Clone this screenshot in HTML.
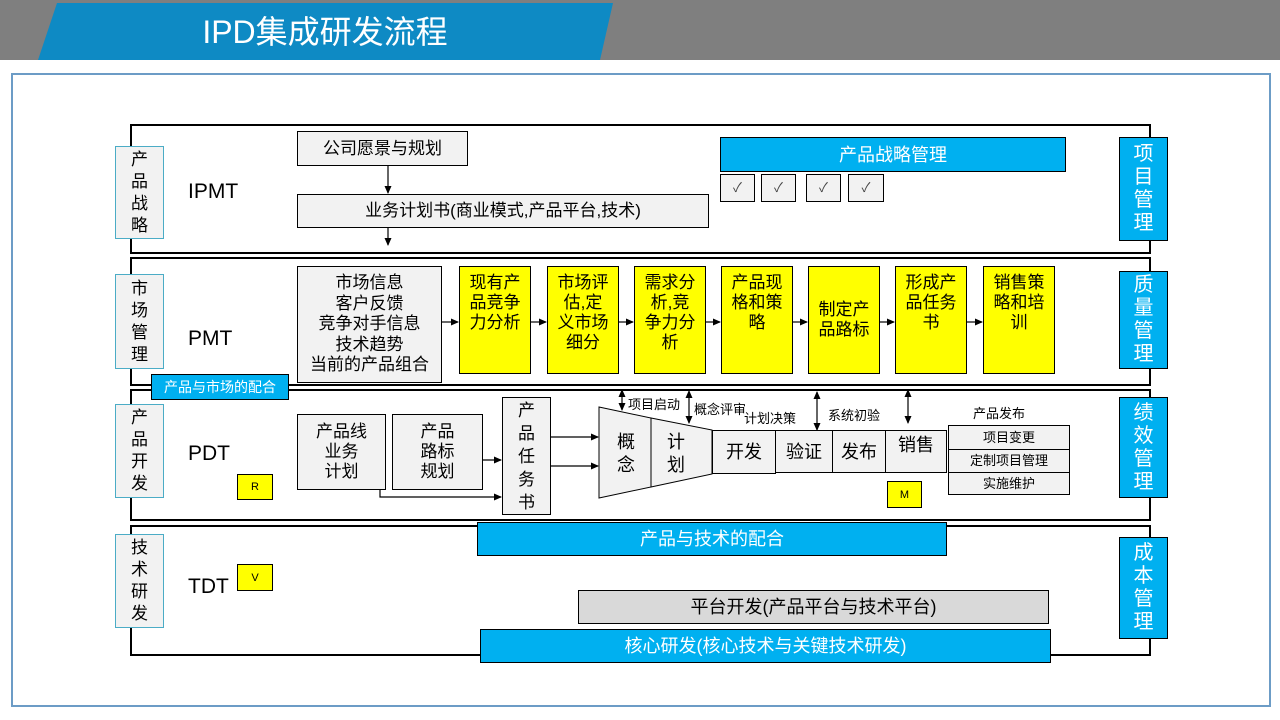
<!DOCTYPE html>
<html><head><meta charset="utf-8"><style>
*{margin:0;padding:0;box-sizing:border-box}
body{width:1280px;height:720px;background:#fff;position:relative;overflow:hidden;font-family:"Liberation Sans","Noto Sans CJK SC",sans-serif;color:#000}
.a{position:absolute}
.box{position:absolute;border:1px solid #000;background:#f2f2f2;text-align:center;font-size:17px;line-height:20px;display:flex;align-items:center;justify-content:center}
.y{background:#ffff00;align-items:flex-start;padding-top:6px}
.bl{background:#00b0f0;color:#fff}
.lane{position:absolute;left:130px;width:1021px;border:2px solid #000}
.ll{position:absolute;left:115px;width:49px;background:#f2f2f2;border:1px solid #4bacc6;font-size:17px;line-height:22px;text-align:center;display:flex;align-items:center;justify-content:center}
.rl{position:absolute;left:1119px;width:49px;background:#00b0f0;border:1px solid #000;color:#fff;font-size:20px;line-height:23px;text-align:center;display:flex;align-items:center;justify-content:center}
.t{position:absolute;font-size:21px}
.s{position:absolute;font-size:13px;white-space:nowrap}
</style></head><body>
<div class="a" style="left:0;top:0;width:1280px;height:60px;background:#7f7f7f"></div>
<svg class="a" style="left:0;top:0" width="1280" height="60"><polygon points="57,3 613,3 600,60 38,60" fill="#0e8ac4"/></svg>
<div class="a" style="left:0;top:12px;width:650px;text-align:center;color:#fff;font-size:32px;line-height:40px">IPD集成研发流程</div>
<div class="a" style="left:11px;top:73px;width:1260px;height:634px;border:2px solid #6c9cc6"></div>

<div class="lane" style="top:124px;height:130px"></div>
<div class="lane" style="top:257px;height:129px"></div>
<div class="lane" style="top:389px;height:132px"></div>
<div class="lane" style="top:525px;height:131px"></div>

<div class="ll" style="top:146px;height:93px">产<br>品<br>战<br>略</div>
<div class="ll" style="top:274px;height:95px">市<br>场<br>管<br>理</div>
<div class="ll" style="top:404px;height:94px">产<br>品<br>开<br>发</div>
<div class="ll" style="top:534px;height:94px">技<br>术<br>研<br>发</div>

<div class="rl" style="top:137px;height:104px">项<br>目<br>管<br>理</div>
<div class="rl" style="top:271px;height:98px">质<br>量<br>管<br>理</div>
<div class="rl" style="top:397px;height:101px">绩<br>效<br>管<br>理</div>
<div class="rl" style="top:537px;height:102px">成<br>本<br>管<br>理</div>

<div class="t" style="left:188px;top:180px">IPMT</div>
<div class="t" style="left:188px;top:327px">PMT</div>
<div class="t" style="left:188px;top:442px">PDT</div>
<div class="t" style="left:188px;top:575px">TDT</div>

<div class="box" style="left:297px;top:131px;width:171px;height:35px">公司愿景与规划</div>
<div class="box" style="left:297px;top:194px;width:412px;height:34px">业务计划书(商业模式,产品平台,技术)</div>
<div class="box bl" style="left:720px;top:137px;width:346px;height:35px;font-size:18px">产品战略管理</div>
<div class="box" style="left:720px;top:174px;width:35px;height:28px;font-size:13px;color:#444">✓</div>
<div class="box" style="left:761px;top:174px;width:35px;height:28px;font-size:13px;color:#444">✓</div>
<div class="box" style="left:806px;top:174px;width:35px;height:28px;font-size:13px;color:#444">✓</div>
<div class="box" style="left:848px;top:174px;width:36px;height:28px;font-size:13px;color:#444">✓</div>

<div class="box" style="left:297px;top:266px;width:145px;height:117px;line-height:20.5px">市场信息<br>客户反馈<br>竞争对手信息<br>技术趋势<br>当前的产品组合</div>
<div class="box y" style="left:459px;top:266px;width:72px;height:108px">现有产<br>品竞争<br>力分析</div>
<div class="box y" style="left:547px;top:266px;width:72px;height:108px">市场评<br>估,定<br>义市场<br>细分</div>
<div class="box y" style="left:634px;top:266px;width:72px;height:108px">需求分<br>析,竞<br>争力分<br>析</div>
<div class="box y" style="left:721px;top:266px;width:72px;height:108px">产品现<br>格和策<br>略</div>
<div class="box y" style="left:808px;top:266px;width:72px;height:108px;align-items:center;padding-top:0">制定产<br>品路标</div>
<div class="box y" style="left:895px;top:266px;width:72px;height:108px">形成产<br>品任务<br>书</div>
<div class="box y" style="left:983px;top:266px;width:72px;height:108px">销售策<br>略和培<br>训</div>
<div class="box bl" style="left:151px;top:374px;width:138px;height:26px;font-size:14px">产品与市场的配合</div>

<div class="box" style="left:297px;top:414px;width:89px;height:76px">产品线<br>业务<br>计划</div>
<div class="box" style="left:392px;top:414px;width:91px;height:76px">产品<br>路标<br>规划</div>
<div class="box" style="left:502px;top:397px;width:49px;height:118px;line-height:23px">产<br>品<br>任<br>务<br>书</div>
<div class="box" style="left:712px;top:430px;width:64px;height:44px;font-size:18px">开发</div>
<div class="box" style="left:775px;top:430px;width:58px;height:43px;font-size:18px">验证</div>
<div class="box" style="left:832px;top:430px;width:54px;height:43px;font-size:18px">发布</div>
<div class="box" style="left:885px;top:430px;width:62px;height:43px;font-size:18px;align-items:flex-start;padding-top:4px">销售</div>
<div class="box" style="left:948px;top:425px;width:122px;height:25px;font-size:13px">项目变更</div>
<div class="box" style="left:948px;top:449px;width:122px;height:24px;font-size:13px">定制项目管理</div>
<div class="box" style="left:948px;top:472px;width:122px;height:23px;font-size:13px">实施维护</div>
<div class="s" style="left:973px;top:403px">产品发布</div>
<div class="s" style="left:628px;top:394px">项目启动</div>
<div class="s" style="left:694px;top:399px">概念评审</div>
<div class="s" style="left:744px;top:408px">计划决策</div>
<div class="s" style="left:828px;top:405px">系统初验</div>

<div class="box" style="left:237px;top:474px;width:36px;height:26px;background:#ff0;font-size:11px">R</div>
<div class="box" style="left:887px;top:481px;width:35px;height:27px;background:#ff0;font-size:11px">M</div>
<div class="box" style="left:237px;top:564px;width:36px;height:27px;background:#ff0;font-size:11px;align-items:flex-start;padding-top:3px">V</div>

<div class="box bl" style="left:477px;top:522px;width:470px;height:34px;font-size:18px">产品与技术的配合</div>
<div class="box" style="left:578px;top:590px;width:471px;height:34px;background:#d9d9d9;font-size:18px">平台开发(产品平台与技术平台)</div>
<div class="box bl" style="left:480px;top:629px;width:571px;height:34px;font-size:18px">核心研发(核心技术与关键技术研发)</div>

<svg class="a" style="left:0;top:0" width="1280" height="720">
<defs><marker id="m" markerWidth="8" markerHeight="8" refX="7" refY="4" orient="auto" markerUnits="userSpaceOnUse"><path d="M0,0.5 L8,4 L0,7.5z" fill="#000"/></marker>
<marker id="ms" markerWidth="8" markerHeight="8" refX="1" refY="4" orient="auto" markerUnits="userSpaceOnUse"><path d="M8,0.5 L0,4 L8,7.5z" fill="#000"/></marker></defs>
<g stroke="#000" stroke-width="1.2" fill="none">
<line x1="388" y1="166" x2="388" y2="193" marker-end="url(#m)"/>
<line x1="388" y1="228" x2="388" y2="245" marker-end="url(#m)"/>
<line x1="442" y1="322" x2="458" y2="322" marker-end="url(#m)"/>
<line x1="531" y1="322" x2="546" y2="322" marker-end="url(#m)"/>
<line x1="619" y1="322" x2="633" y2="322" marker-end="url(#m)"/>
<line x1="706" y1="322" x2="720" y2="322" marker-end="url(#m)"/>
<line x1="793" y1="322" x2="807" y2="322" marker-end="url(#m)"/>
<line x1="880" y1="322" x2="894" y2="322" marker-end="url(#m)"/>
<line x1="967" y1="322" x2="982" y2="322" marker-end="url(#m)"/>
<line x1="483" y1="460" x2="501" y2="460" marker-end="url(#m)"/>
<polyline points="380,490 380,497 501,497" marker-end="url(#m)"/>
<line x1="551" y1="437" x2="598" y2="437" marker-end="url(#m)"/>
<line x1="551" y1="466" x2="598" y2="466" marker-end="url(#m)"/>
<line x1="622" y1="390" x2="622" y2="410" marker-start="url(#ms)" marker-end="url(#m)"/>
<line x1="689" y1="391" x2="689" y2="423" marker-start="url(#ms)" marker-end="url(#m)"/>
<line x1="817" y1="392" x2="817" y2="430" marker-start="url(#ms)" marker-end="url(#m)"/>
<line x1="908" y1="390" x2="908" y2="423" marker-start="url(#ms)" marker-end="url(#m)"/>
</g>
<polygon points="599,407 651,418 651,487 599,498" fill="#f2f2f2" stroke="#000" stroke-width="1"/>
<polygon points="651,418 712,430 712,474 651,487" fill="#f2f2f2" stroke="#000" stroke-width="1"/>
<text x="626" y="448" font-size="18" text-anchor="middle" font-family="Liberation Sans,Noto Sans CJK SC,sans-serif">概</text>
<text x="626" y="471" font-size="18" text-anchor="middle" font-family="Liberation Sans,Noto Sans CJK SC,sans-serif">念</text>
<text x="676" y="448" font-size="18" text-anchor="middle" font-family="Liberation Sans,Noto Sans CJK SC,sans-serif">计</text>
<text x="676" y="471" font-size="18" text-anchor="middle" font-family="Liberation Sans,Noto Sans CJK SC,sans-serif">划</text>
</svg>
</body></html>
